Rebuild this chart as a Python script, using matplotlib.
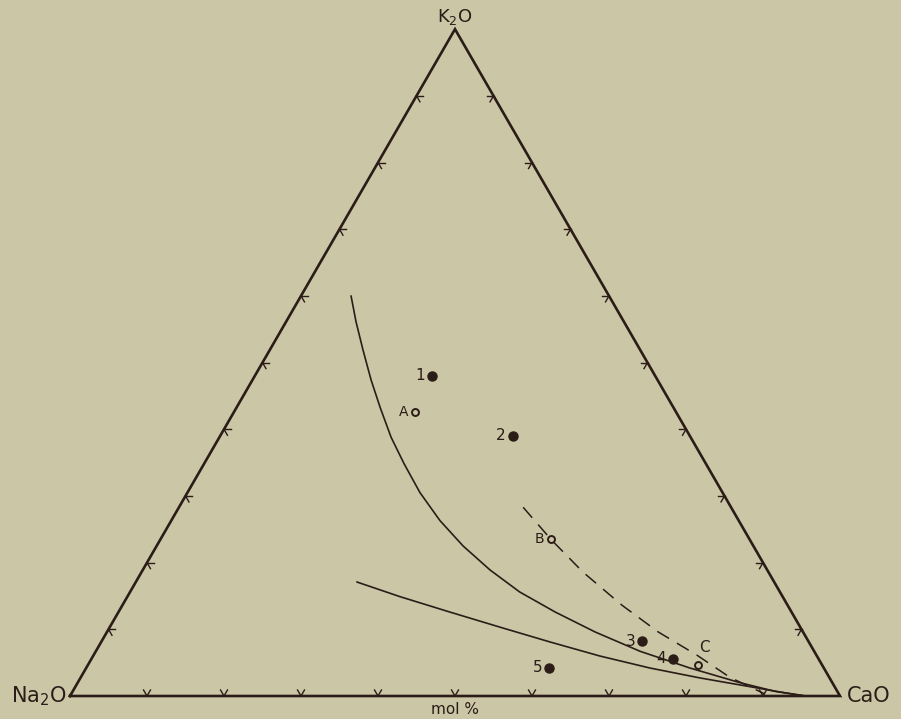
import numpy as np
import matplotlib
matplotlib.use('Agg')
import matplotlib.pyplot as plt

# compositions in mol %: (Na2O, CaO, K2O)
point_labels = ['1', '2', '3', '4', '5']
points = [(29, 23, 48), (23, 38, 39), (21.6, 70.2, 8.2), (18.9, 75.5, 5.6), (35.7, 60.1, 4.2)]

open_labels = ['A', 'B', 'C']
open_points = [(33.9, 23.5, 42.6), (25.8, 50.7, 23.5), (16.1, 79.2, 4.7)]

curve_upper = [(33.5, 6.5, 60.0), (34.8, 9.1, 56.1), (36.0, 12.1, 51.9), (37.2, 15.4, 47.4),
               (38.1, 18.7, 43.2), (38.9, 22.3, 38.8), (39.2, 26.0, 34.8), (39.3, 30.2, 30.5),
               (38.8, 34.9, 26.3), (37.7, 39.8, 22.5), (36.0, 45.1, 18.9), (33.8, 50.6, 15.6),
               (30.7, 56.7, 12.6), (27.0, 63.4, 9.6), (22.6, 70.7, 6.7), (17.4, 78.4, 4.2),
               (12.0, 86.0, 2.0), (8.1, 91.2, 0.7), (4.5, 95.5, 0.0)]
curve_lower = [(54.2, 28.7, 17.1), (49.7, 35.4, 14.9), (44.4, 43.0, 12.6), (38.7, 51.1, 10.2),
               (33.6, 58.3, 8.1), (28.2, 65.8, 6.0), (22.6, 73.2, 4.2), (16.8, 80.5, 2.7),
               (11.0, 87.6, 1.4), (7.5, 91.9, 0.6), (4.5, 95.5, 0.0)]
curve_dashed = [(27.0, 44.7, 28.3), (25.8, 50.7, 23.5), (24.1, 57.3, 18.6), (21.5, 64.9, 13.6),
                (18.8, 71.6, 9.6), (15.5, 78.4, 6.1), (12.9, 84.3, 2.8), (9.6, 90.1, 0.3)]

tick_values = [10, 20, 30, 40, 50, 60, 70, 80, 90]

BG = '#cbc6a6'
INK = '#2b1c17'
H = np.sqrt(3) / 2


def to_xy(comp):
    comp = np.atleast_2d(np.asarray(comp, dtype=float)) / 100.0
    ca, k = comp[:, 1], comp[:, 2]
    return ca + 0.5 * k, H * k


fig = plt.figure(figsize=(9.01, 7.19), dpi=100, facecolor=BG)
ax = fig.add_axes([0, 0, 1, 1], facecolor=BG)
ax.set_xlim(-70 / 770, 831 / 770)
ax.set_ylim(-23 / 770, 696 / 770)
ax.axis('off')

# triangle
tri = to_xy([(100, 0, 0), (0, 100, 0), (0, 0, 100), (100, 0, 0)])
ax.plot(tri[0], tri[1], color=INK, lw=1.9, solid_joinstyle='miter')

# chevron ticks on each edge, opening towards the inside
arm = 0.009
edges = [((100, 0, 0), (0, 100, 0), 90), ((100, 0, 0), (0, 0, 100), -30), ((0, 100, 0), (0, 0, 100), 210)]
for a, b, normal in edges:
    for t in tick_values:
        comp = [a[i] + (b[i] - a[i]) * t / 100 for i in range(3)]
        x0, y0 = to_xy(comp)
        for ang in (normal - 30, normal + 30):
            r = np.radians(ang)
            ax.plot([x0[0], x0[0] + arm * np.cos(r)], [y0[0], y0[0] + arm * np.sin(r)],
                    color=INK, lw=1.0)

# curves
for c in (curve_upper, curve_lower):
    x, y = to_xy(c)
    ax.plot(x, y, color=INK, lw=1.2, solid_capstyle='round', solid_joinstyle='round')
x, y = to_xy(curve_dashed)
ax.plot(x, y, color=INK, lw=1.1, dashes=(9, 6))

# points
x, y = to_xy(points)
ax.plot(x, y, 'o', ms=6.5, color=INK, mec=INK)
for lab, xi, yi in zip(point_labels, x, y):
    ax.text(xi - 0.009, yi, lab, ha='right', va='center', fontsize=11, color=INK)

x, y = to_xy(open_points)
ax.plot(x, y, 'o', ms=5, mfc=BG, mec=INK, mew=1.4)
for lab, xi, yi in zip(open_labels[:2], x[:2], y[:2]):
    ax.text(xi - 0.009, yi, lab, ha='right', va='center', fontsize=10, color=INK)
ax.text(x[2] + 0.002, y[2] + 0.012, open_labels[2], ha='left', va='bottom', fontsize=11, color=INK)

# corner labels
ax.text(-0.004, 0, 'Na$_2$O', ha='right', va='center', fontsize=15, color=INK)
ax.text(1.009, 0, 'CaO', ha='left', va='center', fontsize=15, color=INK)
ax.text(0.5, 0.882, 'K$_2$O', ha='center', va='center', fontsize=13, color=INK)
ax.text(0.5, -0.008, 'mol %', ha='center', va='top', fontsize=11, color=INK)

fig.savefig('out.png', dpi=100, facecolor=BG)
